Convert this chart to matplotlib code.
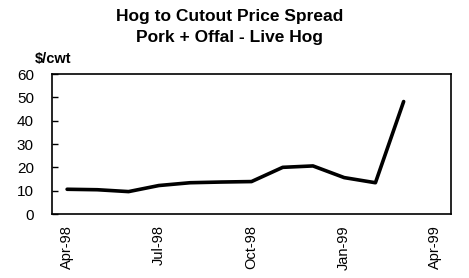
import matplotlib
matplotlib.use("Agg")
import matplotlib.pyplot as plt
import datetime as dt

plt.rcParams['font.family'] = ['Liberation Sans', 'DejaVu Sans']

months = ["1998-04", "1998-05", "1998-06", "1998-07", "1998-08", "1998-09",
          "1998-10", "1998-11", "1998-12", "1999-01", "1999-02", "1999-03"]
spread = [10.6, 10.4, 9.6, 12.2, 13.4, 13.7, 13.9, 20.0, 20.6, 15.6, 13.4, 48.2]
tick_months = ["1998-04", "1998-07", "1998-10", "1999-01", "1999-04"]
tick_labels = ["Apr-98", "Jul-98", "Oct-98", "Jan-99", "Apr-99"]

def to_date(s):
    y, m = s.split("-")
    return dt.date(int(y), int(m), 1)

x = [to_date(m) for m in months]
xt = [to_date(m) for m in tick_months]

fig = plt.figure(figsize=(4.69, 2.78), dpi=100)
ax = fig.add_axes([52/469, 1-214/278, (451-52)/469, (214-74)/278])
ax.plot(x, spread, color='black', linewidth=2.6, solid_joinstyle='round', solid_capstyle='round')

ax.set_ylim(0, 60)
ax.set_yticks(range(0, 61, 10))
ax.set_xlim(dt.date(1998, 3, 17), dt.date(1999, 4, 17))
ax.set_xticks(xt)
ax.set_xticklabels(tick_labels, rotation=90, fontsize=10.5)
ax.tick_params(axis='x', length=0, pad=8)
ax.tick_params(axis='y', direction='in', length=4, width=1, labelsize=11, pad=13)
for sp in ax.spines.values():
    sp.set_linewidth(1.2)
    sp.set_color('black')

fig.text(0.49, 1-16/278, "Hog to Cutout Price Spread", ha='center', va='center',
         fontsize=12.5, fontweight='bold')
fig.text(0.49, 1-37.5/278, "Pork + Offal - Live Hog", ha='center', va='center',
         fontsize=12.5, fontweight='bold')
fig.text(35/469, 1-59.5/278, "$/cwt", ha='left', va='center', fontsize=10.5, fontweight='bold')

fig.savefig("out.png", dpi=100)
